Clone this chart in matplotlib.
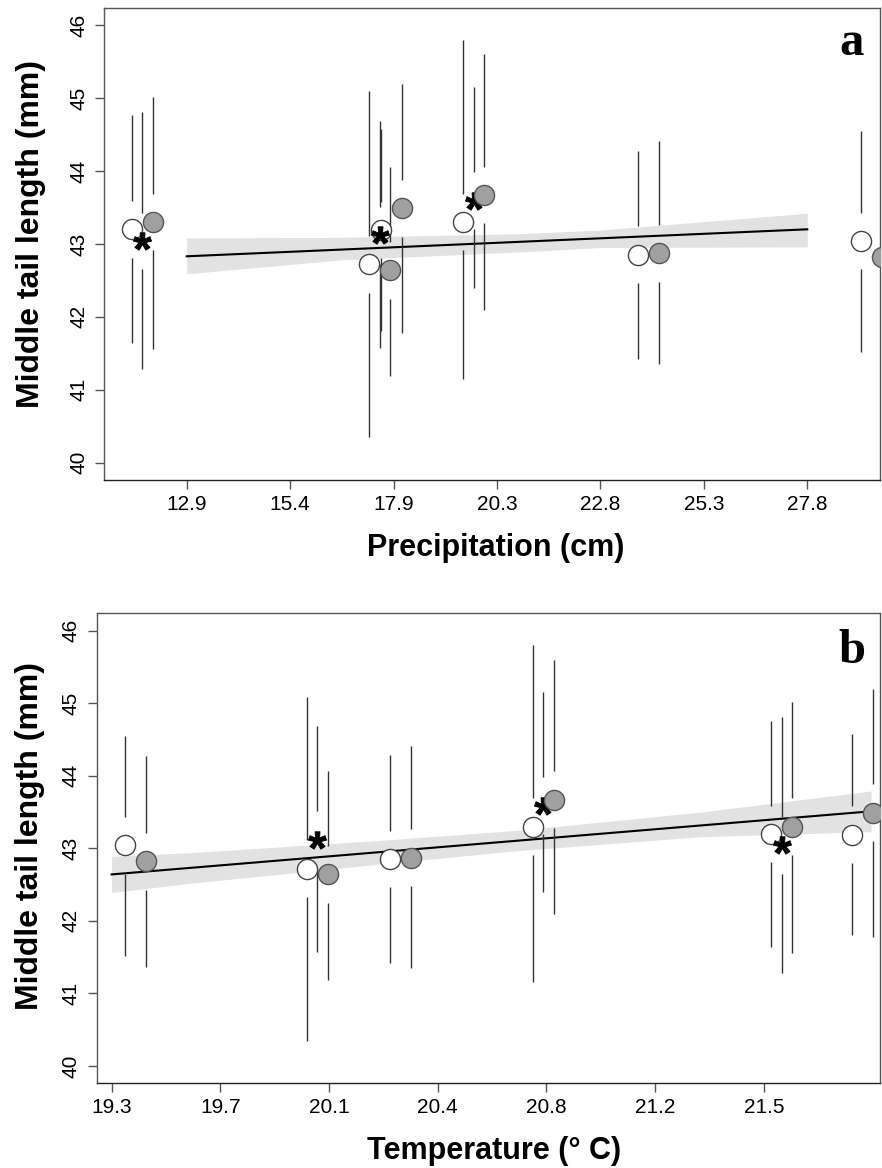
import numpy as np
import matplotlib
matplotlib.use("Agg")
import matplotlib.pyplot as plt
from matplotlib.path import Path
from matplotlib.textpath import TextPath
from matplotlib.font_manager import FontProperties

plt.rcParams['font.family'] = ['Liberation Sans', 'DejaVu Sans']

# site values (six sites)
precip = [11.80, 17.52, 17.81, 19.78, 23.99, 29.35]
temp = [21.58, 20.02, 21.85, 20.78, 20.30, 19.41]

# centre, lower and upper end per group (open circle, asterisk, grey circle)
white_mean = [43.20, 42.72, 43.19, 43.30, 42.85, 43.04]
white_lo = [41.64, 40.35, 41.81, 41.15, 41.42, 41.52]
white_hi = [44.76, 45.09, 44.57, 45.80, 44.28, 44.55]
ast_mean = [43.04, 43.12, np.nan, 43.59, np.nan, np.nan]
ast_lo = [41.28, 41.57, np.nan, 42.40, np.nan, np.nan]
ast_hi = [44.81, 44.68, np.nan, 45.15, np.nan, np.nan]
gray_mean = [43.30, 42.64, 43.49, 43.67, 42.87, 42.82]
gray_lo = [41.56, 41.19, 41.78, 42.10, 41.35, 41.36]
gray_hi = [45.02, 44.06, 45.19, 45.60, 44.41, 44.27]

# fitted lines and confidence bands
prec_line_x = [12.87, 27.81]
prec_line_y = [42.83, 43.20]
prec_band_x = [12.87, 16.56, 20.90, 22.83, 27.81]
prec_band_lo = [42.59, 42.78, 42.89, 42.95, 42.96]
prec_band_hi = [43.08, 43.09, 43.14, 43.19, 43.42]

temp_line_x = [19.33, 21.88]
temp_line_y = [42.64, 43.51]
temp_band_x = [19.33, 19.60, 20.27, 20.70, 21.31, 21.88]
temp_band_lo = [42.39, 42.52, 42.80, 42.97, 43.16, 43.23]
temp_band_hi = [42.89, 42.94, 43.12, 43.25, 43.50, 43.79]

prec_ticks = [12.87, 15.36, 17.85, 20.34, 22.83, 25.32, 27.81]
prec_labels = ['12.9', '15.4', '17.9', '20.3', '22.8', '25.3', '27.8']
temp_ticks = [19.33, 19.695, 20.06, 20.425, 20.79, 21.155, 21.52]
temp_labels = ['19.3', '19.7', '20.1', '20.4', '20.8', '21.2', '21.5']
y_ticks = [40, 41, 42, 43, 44, 45, 46]

# asterisk marker built from a bold sans glyph
tp = TextPath((0, 0), '*', prop=FontProperties(family='Liberation Sans', weight='bold'), size=1)
verts = tp.vertices.copy()
codes = tp.codes
keep = codes != Path.CLOSEPOLY
cen = (verts[keep].min(axis=0) + verts[keep].max(axis=0)) / 2
verts = verts - cen
verts[~keep] = 0
star = Path(verts, codes)

GAP = 0.39
LINE_C = '#333333'


def bars(ax, x, m, lo, hi):
    for xi, mi, l, h in zip(x, m, lo, hi):
        if np.isnan(mi):
            continue
        ax.vlines([xi, xi], [l, mi + GAP], [mi - GAP, h], color=LINE_C, lw=1, zorder=3)


def panel(ax, xs, d, lx, ly, bx, blo, bhi, ticks, labels, xlim):
    xs = np.array(xs)
    ax.fill_between(bx, blo, bhi, color='#e2e2e2', lw=0, zorder=1)
    ax.plot(lx, ly, color='black', lw=1.5, zorder=2)

    has_ast = ~np.isnan(np.array(ast_mean))
    # open circle left, asterisk middle, grey circle right
    bars(ax, xs - d, white_mean, white_lo, white_hi)
    bars(ax, xs, ast_mean, ast_lo, ast_hi)
    bars(ax, xs + d, gray_mean, gray_lo, gray_hi)

    ax.plot(xs - d, white_mean, 'o', ms=14.5, mfc='white', mec='#444444', mew=1, zorder=4)
    ax.plot(xs[has_ast], np.array(ast_mean)[has_ast], ls='none', marker=star, ms=13,
            color='black', mec='black', mew=0.6, zorder=5)
    ax.plot(xs + d, gray_mean, 'o', ms=14.5, mfc='#a0a0a0', mec='#555555', mew=1, zorder=6)

    ax.set_xlim(*xlim)
    ax.set_ylim(39.76, 46.24)
    ax.set_xticks(ticks)
    ax.set_xticklabels(labels)
    ax.set_yticks(y_ticks)
    ax.set_yticklabels([str(v) for v in y_ticks], rotation=90, va='center')
    ax.tick_params(length=6.5, width=1, color='#555555', labelsize=15, pad=4)
    ax.tick_params(axis='y', pad=5)
    for s in ax.spines.values():
        s.set_color('#555555')
        s.set_linewidth(1)
    ax.spines['bottom'].set_color('#222222')


W, H = 882, 1168
fig = plt.figure(figsize=(W / 100, H / 100), dpi=100)
axa = fig.add_axes([104 / W, 1 - 480.3 / H, 776 / W, 472.8 / H])
axb = fig.add_axes([96.7 / W, 1 - 1083.3 / H, 783.3 / W, 470 / H])

panel(axa, precip, 0.25, prec_line_x, prec_line_y, prec_band_x, prec_band_lo, prec_band_hi,
      prec_ticks, prec_labels, (10.88, 29.56))
panel(axb, temp, 0.035, temp_line_x, temp_line_y, temp_band_x, temp_band_lo, temp_band_hi,
      temp_ticks, temp_labels, (19.28, 21.91))

lab = dict(fontsize=22, fontweight='bold', ha='center', va='center')
fig.text(31 / W, 1 - 234 / H, 'Middle tail length (mm)', rotation=90, fontsize=23,
         fontweight='bold', ha='center', va='center')
fig.text(496 / W, 1 - 548 / H, 'Precipitation (cm)', **lab)
fig.text(30 / W, 1 - 836 / H, 'Middle tail length (mm)', rotation=90, fontsize=23,
         fontweight='bold', ha='center', va='center')
fig.text(494 / W, 1 - 1151 / H, 'Temperature (° C)', **lab)

pl = dict(fontsize=35, fontweight='bold', family='Liberation Serif', ha='center', va='baseline')
fig.text(851.7 / W, 1 - 55 / H, 'a', **pl)
fig.text(851.7 / W, 1 - 663 / H, 'b', **pl)

fig.savefig('out.png', dpi=100)
